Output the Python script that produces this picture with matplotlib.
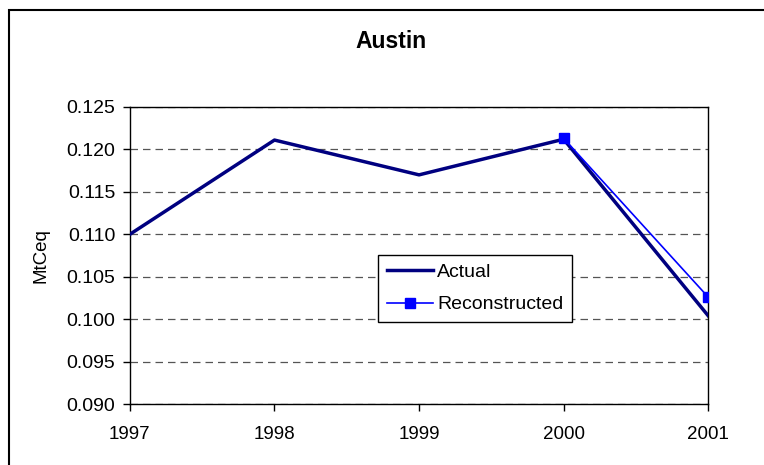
import matplotlib
matplotlib.use("Agg")
import matplotlib.pyplot as plt
from matplotlib.patches import Rectangle

plt.rcParams['font.family'] = ['Liberation Sans', 'DejaVu Sans']

years = [1997, 1998, 1999, 2000, 2001]
actual = [0.1100, 0.1211, 0.1170, 0.1212, 0.1004]
recon_years = [2000, 2001]
reconstructed = [0.1213, 0.1026]

fig = plt.figure(figsize=(7.64, 4.65), dpi=100)
ax = fig.add_axes([0.170, 0.131, 0.757, 0.639])

# frame round the whole chart (right and bottom edges run off the image)
fig.patches.append(Rectangle((8.5 / 764, -10 / 465), 780 / 764, 465 / 465,
                             transform=fig.transFigure, fill=False,
                             edgecolor='black', linewidth=1.5))

ax.plot(years, actual, color='#000080', linewidth=2.5, label='Actual', zorder=3)
ax.plot(recon_years, reconstructed, color='#0000FF', linewidth=1.2,
        marker='s', markersize=7, label='Reconstructed', zorder=4)

ax.set_xlim(1997, 2001)
ax.set_ylim(0.090, 0.125)
ax.set_xticks(years)
ax.set_xticklabels([str(y) for y in years])
ax.set_yticks([0.090 + 0.005 * i for i in range(8)])
ax.set_yticklabels(['%.3f' % (0.090 + 0.005 * i) for i in range(8)])
ax.tick_params(direction='out', length=5, width=1, colors='black')
ax.tick_params(axis='x', labelsize=13.5, pad=11)
ax.tick_params(axis='y', labelsize=14, pad=5.5)
for s in ax.spines.values():
    s.set_linewidth(1)
ax.grid(axis='y', linestyle=(0, (6, 4)), color='#555555', linewidth=0.9)
ax.set_axisbelow(True)

ax.set_ylabel('MtCeq', fontsize=13.5, labelpad=12)
fig.text(391 / 764, 1 - 41 / 465, 'Austin', fontsize=16.5, fontweight='bold',
         ha='center', va='center')

leg = ax.legend(loc='lower left', bbox_to_anchor=(0.429, 0.276, 0.336, 0.226),
                mode='expand', fontsize=14, frameon=True, fancybox=False,
                edgecolor='black', framealpha=1, handlelength=2.4,
                borderpad=0.45, labelspacing=0.75, handletextpad=0.2,
                borderaxespad=0)
leg.get_frame().set_linewidth(1)

fig.savefig('out.png', dpi=100)
